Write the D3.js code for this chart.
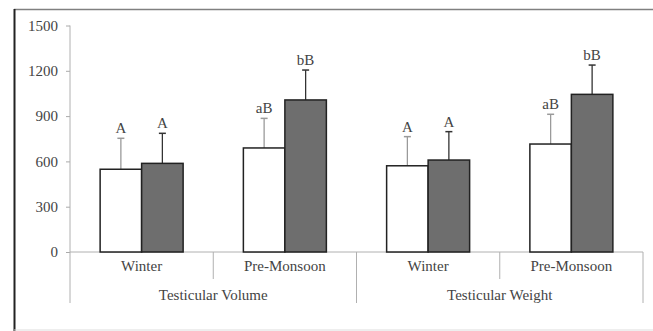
<!DOCTYPE html>
<html><head><meta charset="utf-8">
<script src="https://cdn.jsdelivr.net/npm/d3@7"></script>
<style>body{margin:0;background:#fff}svg{display:block}
svg text{font-family:"Liberation Serif","Times New Roman","DejaVu Serif",serif !important;}</style>
</head><body>
<svg id="c" width="653" height="331"></svg>
<script>
const categories = ["Winter", "Pre-Monsoon", "Winter", "Pre-Monsoon"];
const groups = ["Testicular Volume", "Testicular Weight"];
const seriesNames = ["s1", "s2"];
const whiteValues = [548, 689, 571, 715];
const grayValues = [587, 1007, 609, 1044];
const whiteErr = [205, 196, 193, 197];
const grayErr = [199, 198, 188, 194];
const whiteLabels = ["A", "aB", "A", "aB"];
const grayLabels = ["A", "bB", "A", "bB"];
const yTicks = [0, 300, 600, 900, 1200, 1500];

const svg = d3.select("#c");
const L = 70, R = 643, Y0 = 252, Y1 = 25.5;

// frame
svg.append("line").attr("x1", 14).attr("x2", 653).attr("y1", 9.5).attr("y2", 9.5).attr("stroke", "#808080").attr("stroke-width", 1.5);
svg.append("line").attr("x1", 14.5).attr("x2", 14.5).attr("y1", 9).attr("y2", 331).attr("stroke", "#222").attr("stroke-width", 2);
svg.append("line").attr("x1", 14).attr("x2", 653).attr("y1", 330).attr("y2", 330).attr("stroke", "#ddd").attr("stroke-width", 1);

const y = d3.scaleLinear().domain([0, 1500]).range([Y0, Y1]);
const keys = categories.map((c, i) => i);
const x = d3.scaleBand().domain(keys).range([L, R]).padding(0);
const xs = d3.scaleBand().domain(seriesNames).range([0, x.bandwidth()]).paddingInner(0).paddingOuter(0.726);

// y axis
const yAxis = svg.append("g").attr("transform", `translate(${L},0)`)
  .call(d3.axisLeft(y).tickValues(yTicks).tickSize(4).tickPadding(8).tickFormat(d3.format("d")));
yAxis.select(".domain").remove();
yAxis.selectAll(".tick line").attr("stroke", "#aaa");
yAxis.selectAll("text").attr("font-size", 15).attr("fill", "#444");
svg.append("line").attr("x1", L).attr("x2", L).attr("y1", Y1).attr("y2", 303).attr("stroke", "#b0b0b0");

// x axis line and dividers
svg.append("line").attr("x1", L).attr("x2", R).attr("y1", Y0).attr("y2", Y0).attr("stroke", "#b0b0b0");
[1, 3].forEach(i => {
  const xx = x(i);
  svg.append("line").attr("x1", xx).attr("x2", xx).attr("y1", Y0).attr("y2", 279).attr("stroke", "#b0b0b0");
});
[2, 4].forEach(i => {
  const xx = i < 4 ? x(i) : R;
  svg.append("line").attr("x1", xx).attr("x2", xx).attr("y1", Y0).attr("y2", 303).attr("stroke", "#b0b0b0");
});

// category labels
svg.append("g").selectAll("text").data(keys).join("text")
  .attr("x", i => x(i) + x.bandwidth() / 2).attr("y", 271)
  .attr("text-anchor", "middle").attr("font-size", 15).attr("fill", "#444")
  .text(i => categories[i]);
svg.append("g").selectAll("text").data(groups).join("text")
  .attr("x", (g, j) => x(j * 2) + x.bandwidth()).attr("y", 300)
  .attr("text-anchor", "middle").attr("font-size", 15).attr("fill", "#444")
  .text(g => g);

// bars
const seriesData = [
  {name: "s1", values: whiteValues, err: whiteErr, labels: whiteLabels, fill: "#ffffff", errColor: "#9a9a9a"},
  {name: "s2", values: grayValues, err: grayErr, labels: grayLabels, fill: "#6e6e6e", errColor: "#333"}
];
seriesData.forEach(s => {
  const g = svg.append("g");
  keys.forEach(i => {
    const bx = x(i) + xs(s.name), bw = xs.bandwidth();
    const cx = bx + bw / 2;
    const top = y(s.values[i]), etop = y(s.values[i] + s.err[i]);
    g.append("line").attr("x1", cx).attr("x2", cx).attr("y1", top).attr("y2", etop).attr("stroke", s.errColor).attr("stroke-width", 1.3);
    g.append("line").attr("x1", cx - 3.5).attr("x2", cx + 3.5).attr("y1", etop).attr("y2", etop).attr("stroke", s.errColor).attr("stroke-width", 1.5);
    g.append("rect").attr("x", bx).attr("y", top).attr("width", bw).attr("height", Y0 - top)
      .attr("fill", s.fill).attr("stroke", "#222").attr("stroke-width", 1.5);
    g.append("text").attr("x", cx).attr("y", etop - 5).attr("text-anchor", "middle")
      .attr("font-size", 15).attr("fill", "#444").text(s.labels[i]);
  });
});
</script>
</body></html>
